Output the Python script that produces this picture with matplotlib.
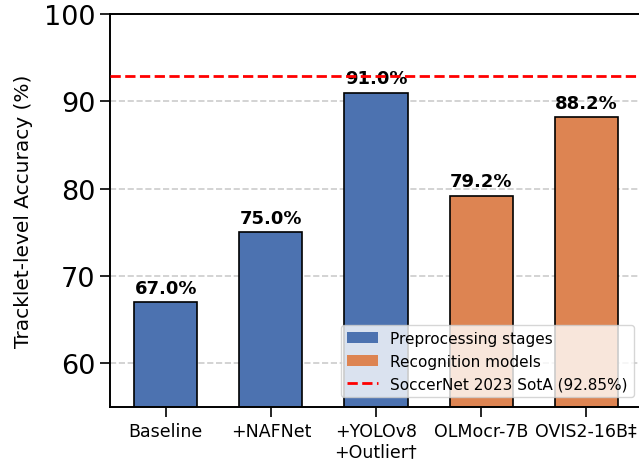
import matplotlib
matplotlib.use("Agg")
import matplotlib.pyplot as plt
from matplotlib.patches import Patch
from matplotlib.lines import Line2D

categories = ["Baseline", "+NAFNet", "+YOLOv8\n+Outlier†", "OLMocr-7B", "OVIS2-16B‡"]
values = [67.0, 75.0, 91.0, 79.2, 88.2]
groups = ["pre", "pre", "pre", "rec", "rec"]
sota = 92.85

colors = {"pre": "#4C72B0", "rec": "#DD8452"}

fig = plt.figure(figsize=(6.39, 4.64), dpi=100)
ax = fig.add_axes([110/639, (464-408)/464, (642-110)/639, (408-15)/464])

x = list(range(len(categories)))
bars = ax.bar(x, values, width=0.6, color=[colors[g] for g in groups],
              edgecolor="black", linewidth=1.2, zorder=2)
for xi, v in zip(x, values):
    ax.text(xi, v + 0.6, f"{v:.1f}%", ha="center", va="bottom",
            fontsize=13, fontweight="bold", zorder=3)

ax.axhline(sota, color="red", linestyle="--", linewidth=2, zorder=4)
ax.set_ylim(55, 100)
ax.set_xlim(-0.53, 4.53)
ax.set_yticks([60, 70, 80, 90, 100])
ax.yaxis.grid(True, linestyle="--", color="#cccccc", linewidth=1.2, zorder=0)
ax.set_axisbelow(True)
ax.set_xticks(x)
ax.set_xticklabels(categories, fontsize=12.5)
ax.tick_params(axis="y", labelsize=19.5, length=7, width=1.2)
ax.tick_params(axis="x", length=7, width=1.2)
ax.set_ylabel("Tracklet-level Accuracy (%)", fontsize=14.5, labelpad=7.5)
for s in ax.spines.values():
    s.set_linewidth(1.4)

handles = [Patch(facecolor=colors["pre"], label="Preprocessing stages"),
           Patch(facecolor=colors["rec"], label="Recognition models"),
           Line2D([0], [0], color="red", linestyle="--", linewidth=2,
                  label="SoccerNet 2023 SotA (92.85%)")]
leg = ax.legend(handles=handles, loc="lower right", fontsize=11, framealpha=0.8,
                bbox_to_anchor=(0.999, 0.005))
leg.set_zorder(5)

fig.savefig("out.png", dpi=100)
